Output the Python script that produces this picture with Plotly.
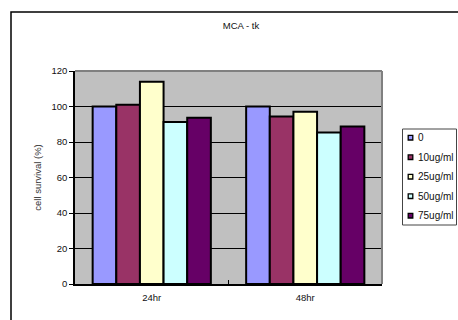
import plotly.graph_objects as go

# Time points and treatment doses
time_points = ["24hr", "48hr"]
doses = ["0", "10ug/ml", "25ug/ml", "50ug/ml", "75ug/ml"]
survival = {
    "0": [100, 100],
    "10ug/ml": [101, 94.3],
    "25ug/ml": [114, 97.1],
    "50ug/ml": [91.3, 85.3],
    "75ug/ml": [93.7, 88.7],
}
colors = ["#9999FF", "#993366", "#FFFFCC", "#CCFFFF", "#660066"]

W, H = 458, 320
ML, MR, MT, MB = 75, 76, 71, 36
PW, PH = W - ML - MR, H - MT - MB


def px_x(px):
    return (px - ML) / PW


def px_y(py):
    return (H - MB - py) / PH


fig = go.Figure()
for name, col in zip(doses, colors):
    fig.add_trace(go.Bar(
        x=time_points, y=survival[name], name=name,
        marker=dict(color=col, line=dict(color="black", width=2)),
        showlegend=False,
    ))

font = dict(family="Liberation Sans, Arial, sans-serif", size=9.5, color="#111")

shapes = []
# outer chart frame
shapes.append(dict(type="rect", xref="paper", yref="paper",
                   x0=px_x(11), x1=px_x(470), y0=px_y(330), y1=px_y(12),
                   line=dict(color="black", width=1.5), fillcolor="rgba(0,0,0,0)",
                   layer="below"))
# gray plot-area border on top and right
shapes.append(dict(type="line", xref="paper", yref="paper", x0=0, x1=1, y0=1, y1=1,
                   line=dict(color="#808080", width=2)))
shapes.append(dict(type="line", xref="paper", yref="paper", x0=1, x1=1, y0=0, y1=1,
                   line=dict(color="#808080", width=2)))

# legend box
lx0, lx1, ly0, ly1 = 402.5, 456.5, 129, 225
shapes.append(dict(type="rect", xref="paper", yref="paper",
                   x0=px_x(lx0), x1=px_x(lx1), y0=px_y(ly1), y1=px_y(ly0),
                   line=dict(color="#444", width=1), fillcolor="white"))
annotations = []
row_y = [137.7, 157.2, 176.7, 196.2, 215.7]
for name, col, ry in zip(doses, colors, row_y):
    shapes.append(dict(type="rect", xref="paper", yref="paper",
                       x0=px_x(408.2), x1=px_x(412.8), y0=px_y(ry + 2.3), y1=px_y(ry - 2.3),
                       line=dict(color="black", width=1.3), fillcolor=col))
    annotations.append(dict(xref="paper", yref="paper", x=px_x(416), y=px_y(ry),
                            text=name, showarrow=False, xanchor="left", yanchor="middle",
                            font=dict(family=font["family"], size=10, color="#111")))

fig.update_layout(
    width=W, height=H, autosize=False,
    margin=dict(l=ML, r=MR, t=MT, b=MB, pad=0),
    paper_bgcolor="white", plot_bgcolor="#C0C0C0",
    barmode="group", bargap=0.23, bargroupgap=0,
    font=font,
    title=dict(text="MCA - tk", x=241 / W, xanchor="center", y=1 - 26 / H,
               yanchor="middle", font=dict(family=font["family"], size=9.5, color="#111")),
    xaxis=dict(showline=True, linecolor="black", linewidth=1.5,
               ticks="inside", tickson="boundaries", ticklen=4, tickcolor="black",
               showgrid=False, tickfont=font, ticklabelstandoff=4),
    yaxis=dict(range=[0, 120], dtick=20, showline=True, linecolor="black", linewidth=1.5,
               ticks="outside", ticklen=4, tickcolor="black", tickwidth=1,
               showgrid=True, gridcolor="black", gridwidth=1, zeroline=False,
               tickfont=font,
               title=dict(text="cell survival (%)", standoff=8,
                          font=dict(family=font["family"], size=9.5, color="#333"))),
    shapes=shapes, annotations=annotations,
)

fig.write_html("out.html")
